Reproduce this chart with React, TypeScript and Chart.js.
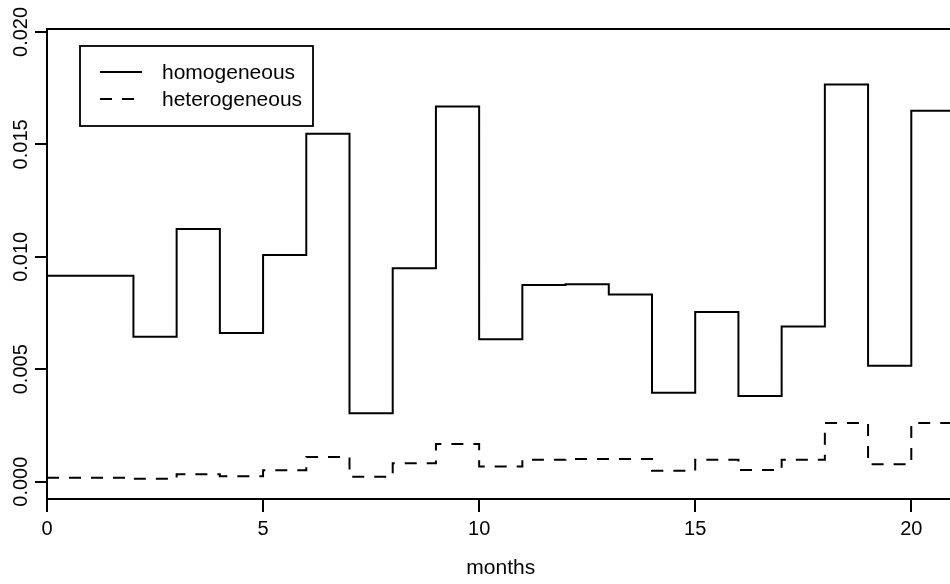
import React, { useEffect, useRef } from "react";
import { Chart, registerables } from "chart.js";

Chart.register(...registerables);

const months = [0, 1, 2, 3, 4, 5, 6, 7, 8, 9, 10, 11, 12, 13, 14, 15, 16, 17, 18, 19, 20, 21];
const homogeneous = [
  0.00916, 0.00916, 0.00645, 0.01124, 0.00661, 0.01008, 0.01547, 0.00304, 0.00949, 0.01668,
  0.00633, 0.00875, 0.00878, 0.00832, 0.00396, 0.00754, 0.00381, 0.0069, 0.01766, 0.00515,
  0.01649,
];
const heterogeneous = [
  0.00018, 0.00018, 0.00013, 0.00033, 0.00024, 0.00051, 0.0011, 0.00022, 0.00082, 0.00168,
  0.00067, 0.00097, 0.00101, 0.00101, 0.00049, 0.00098, 0.00052, 0.00097, 0.00261, 0.00077,
  0.00261,
];
const xTicks = [0, 5, 10, 15, 20];
const yTicks = [0, 0.005, 0.01, 0.015, 0.02];
const seriesNames = ["homogeneous", "heterogeneous"];

const FONT = "'Liberation Sans', Arial, Helvetica, sans-serif";

function stepPoints(vals: number[]) {
  return months.map((m, i) => ({ x: m, y: vals[Math.min(i, vals.length - 1)] }));
}

const boxPlugin = {
  id: "rbox",
  afterDraw(chart: any) {
    const { ctx, chartArea } = chart;
    const { left, right, top, bottom } = chartArea;
    ctx.save();
    ctx.strokeStyle = "#000";
    ctx.lineWidth = 2;
    ctx.strokeRect(left, top, right - left, bottom - top);

    // y tick labels (rotated, R style)
    const ys = chart.scales.y;
    ctx.fillStyle = "#000";
    ctx.font = `20px ${FONT}`;
    ctx.textAlign = "center";
    ctx.textBaseline = "alphabetic";
    ys.ticks.forEach((t: any) => {
      const py = ys.getPixelForValue(t.value);
      ctx.save();
      ctx.translate(26.7, py);
      ctx.rotate(-Math.PI / 2);
      ctx.fillText(Number(t.value).toFixed(3), 0, 0);
      ctx.restore();
    });

    // legend
    const lx = 80, ly = 46, lw = 233, lh = 80;
    ctx.lineWidth = 1.8;
    ctx.strokeRect(lx, ly, lw, lh);
    ctx.font = `21px ${FONT}`;
    ctx.textAlign = "left";
    const rows = [72, 99];
    chart.data.datasets.forEach((ds: any, i: number) => {
      ctx.beginPath();
      ctx.setLineDash(ds.borderDash || []);
      ctx.lineWidth = 2;
      ctx.moveTo(100, rows[i]);
      ctx.lineTo(142, rows[i]);
      ctx.stroke();
      ctx.setLineDash([]);
      ctx.fillText(ds.label, 162, rows[i] + 7);
    });
    ctx.restore();
  },
};

export default function App() {
  const ref = useRef<HTMLCanvasElement>(null);
  useEffect(() => {
    if (!ref.current) return;
    const chart = new Chart(ref.current, {
      type: "line",
      data: {
        datasets: [
          {
            label: seriesNames[0],
            data: stepPoints(homogeneous),
            stepped: true,
            borderColor: "#000",
            borderWidth: 2,
            pointRadius: 0,
            fill: false,
          },
          {
            label: seriesNames[1],
            data: stepPoints(heterogeneous),
            stepped: true,
            borderColor: "#000",
            borderWidth: 2,
            borderDash: [12, 10],
            pointRadius: 0,
            fill: false,
          },
        ],
      },
      options: {
        responsive: false,
        animation: false,
        devicePixelRatio: 1,
        layout: { padding: { top: 29, right: 1.5, bottom: 0, left: 0 } },
        plugins: { legend: { display: false }, tooltip: { enabled: false } },
        scales: {
          x: {
            type: "linear",
            min: 0,
            max: 21,
            afterBuildTicks: (s: any) => {
              s.ticks = xTicks.map((v) => ({ value: v }));
            },
            afterFit: (s: any) => {
              s.height = 85;
            },
            grid: { drawOnChartArea: false, tickLength: 13, color: "#000", lineWidth: 2 },
            border: { display: false },
            ticks: {
              color: "#000",
              font: { family: FONT, size: 20 },
              padding: 5,
              maxRotation: 0,
              minRotation: 0,
              callback: (v: any) => String(v),
            },
            title: {
              display: true,
              text: "months",
              color: "#000",
              font: { family: FONT, size: 21 },
              padding: { top: 0, bottom: 3 },
            },
          },
          y: {
            type: "linear",
            min: -0.00077,
            max: 0.02013,
            afterBuildTicks: (s: any) => {
              s.ticks = yTicks.map((v) => ({ value: v }));
            },
            afterFit: (s: any) => {
              s.width = 47;
            },
            grid: { drawOnChartArea: false, tickLength: 12, color: "#000", lineWidth: 2 },
            border: { display: false },
            ticks: { color: "rgba(0,0,0,0)", font: { family: FONT, size: 20 } },
          },
        },
      },
      plugins: [boxPlugin],
    });
    return () => chart.destroy();
  }, []);
  return (
    <div
      style={{
        position: "fixed",
        left: 0,
        top: 0,
        width: 950,
        height: 584,
        overflow: "hidden",
        background: "#fff",
      }}
    >
      <canvas ref={ref} width={956} height={584} style={{ display: "block" }} />
    </div>
  );
}
